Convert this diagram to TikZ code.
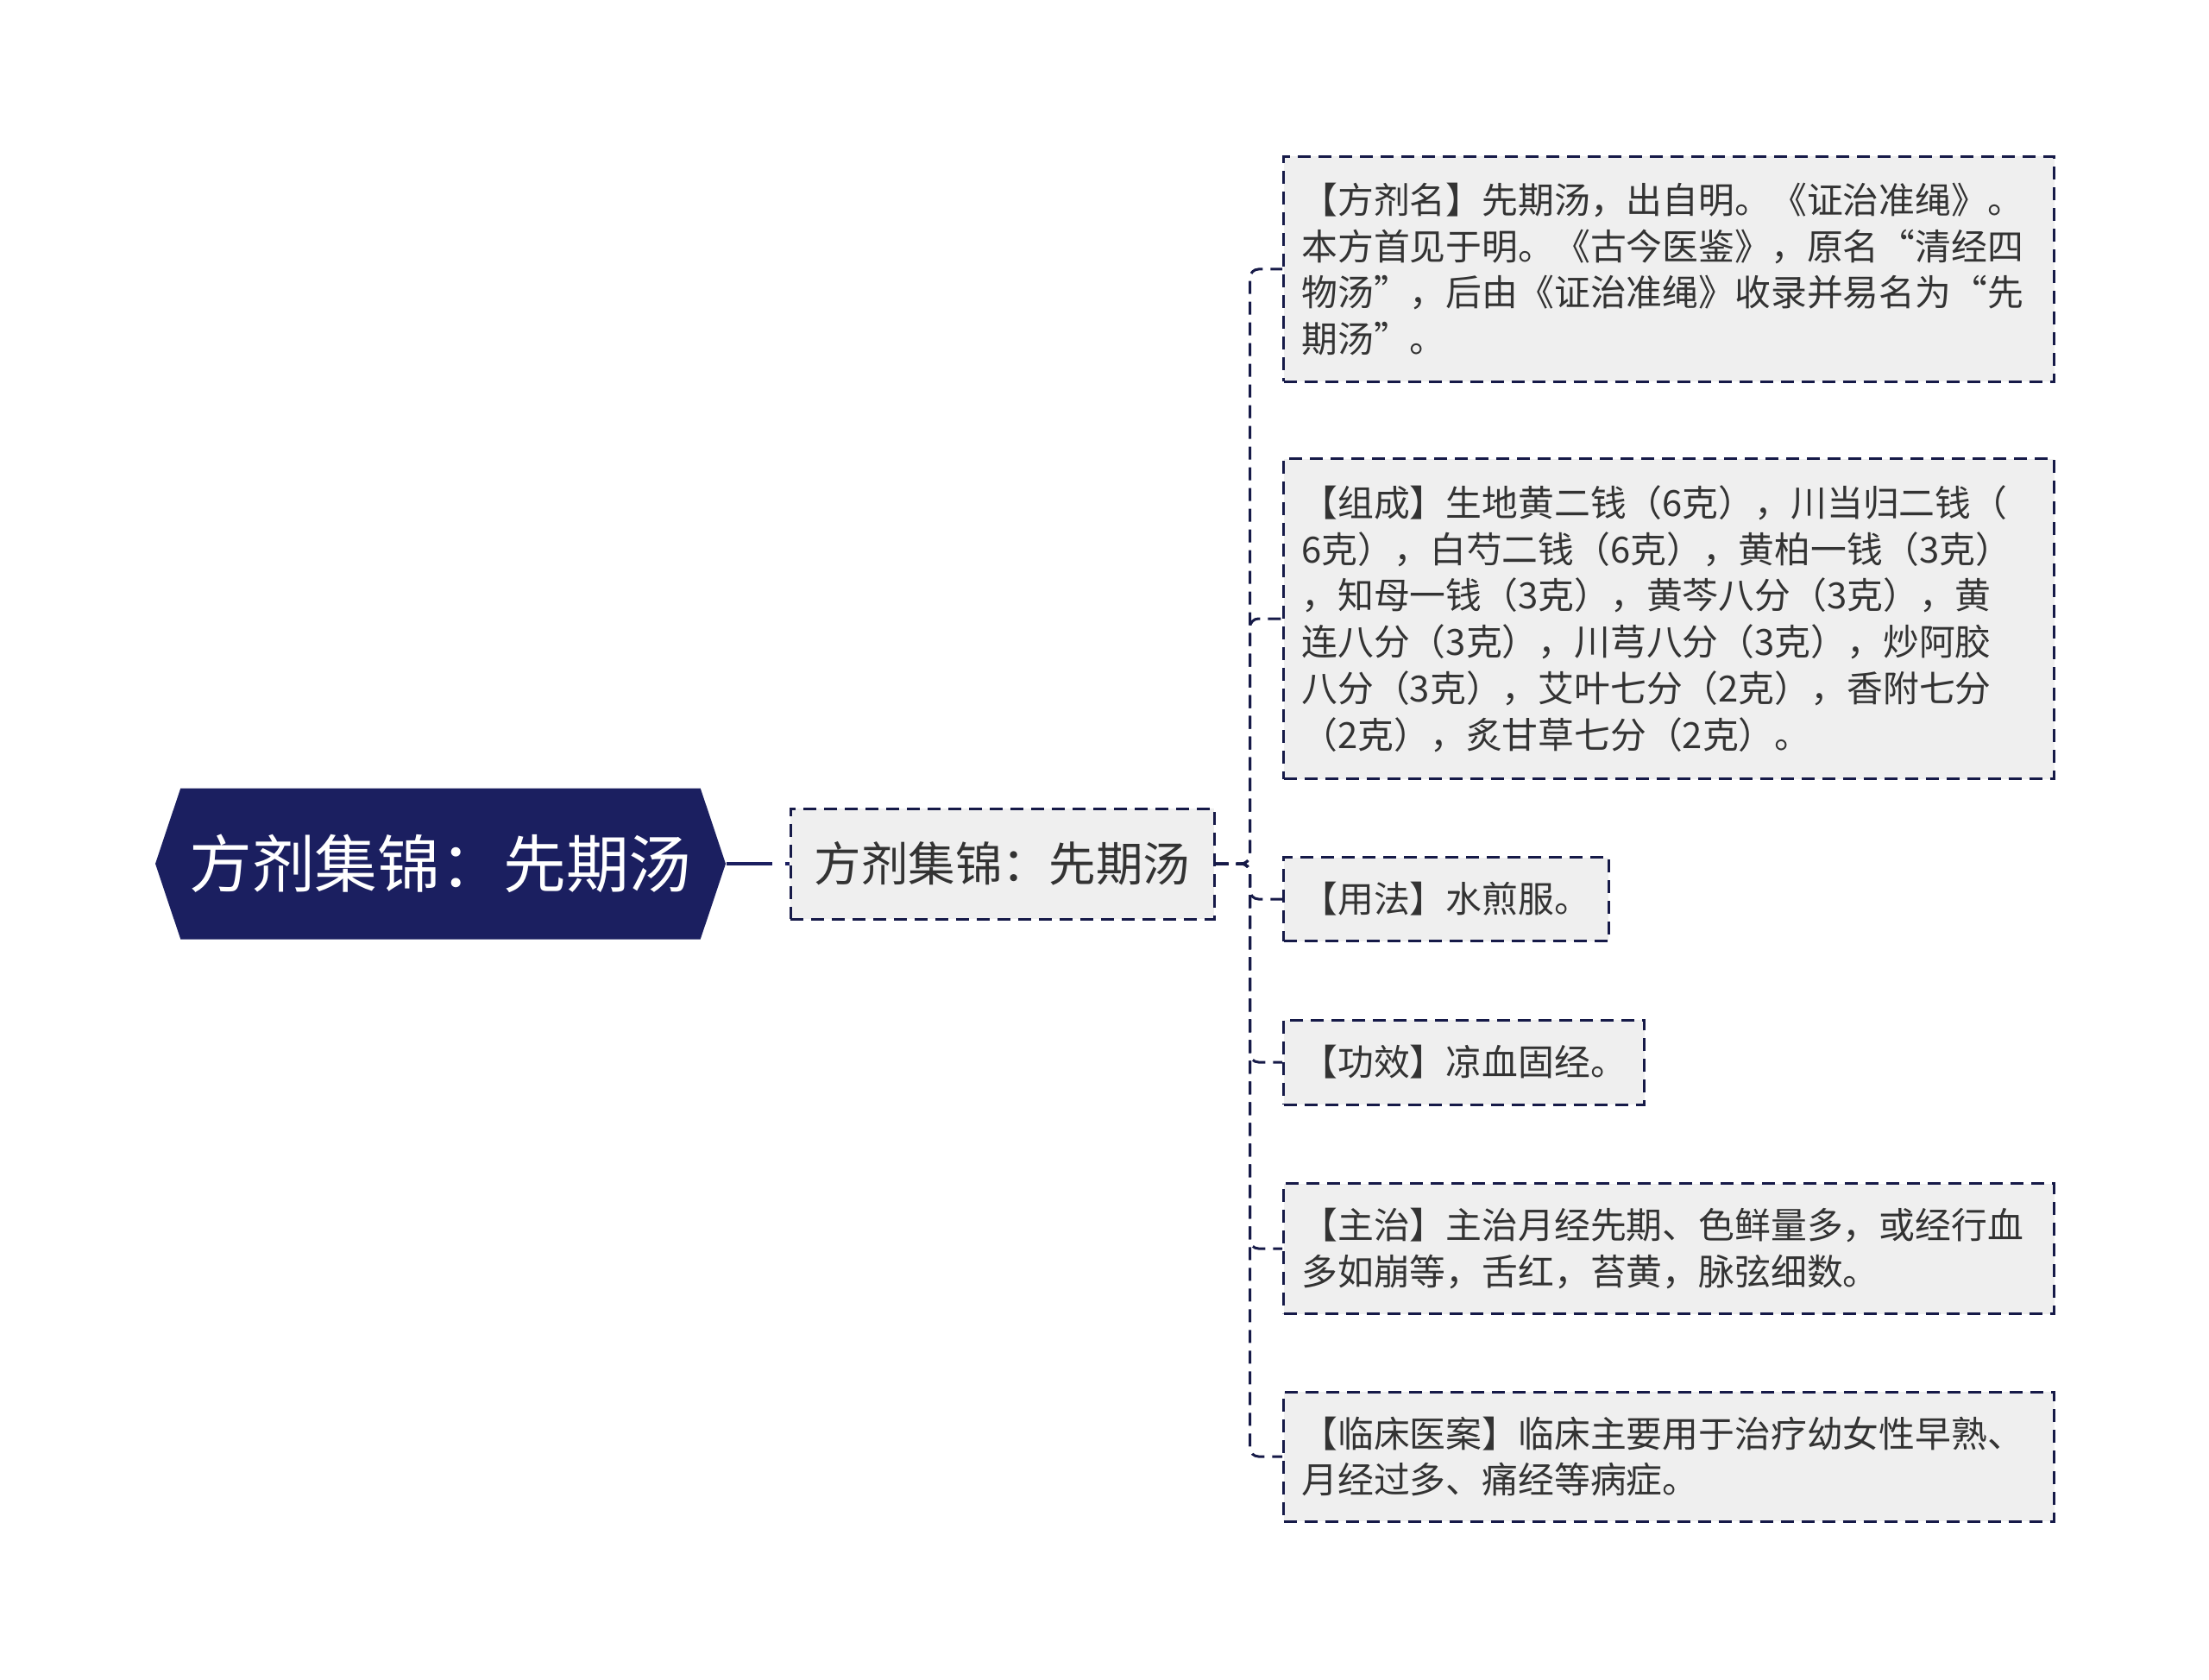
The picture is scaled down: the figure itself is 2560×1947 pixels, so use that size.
\documentclass[tikz,border=0pt]{standalone}
\usepackage{fontspec}
\newfontfamily\cjk{Noto Sans CJK SC}
\usetikzlibrary{shapes.symbols}
\definecolor{navy}{RGB}{27,31,96}
\definecolor{edgeblue}{RGB}{22,26,72}
\definecolor{boxgray}{RGB}{239,239,239}
\definecolor{txtgray}{RGB}{51,51,51}
\begin{document}
\begin{tikzpicture}[x=0.1mm, y=-0.1mm,
  link/.style={draw=edgeblue, line width=0.3mm, dash pattern=on 1.5mm off 0.9mm, rounded corners=1mm},
  rootlink/.style={draw=navy, line width=0.45mm, dash pattern=on 5.3mm off 1.5mm},
  rootnode/.style={signal, signal to=west and east, signal pointer angle=143, fill=navy, text=white,
    font=\cjk\fontsize{20.7}{24}\selectfont, minimum width=66.1mm, minimum height=17.5mm, inner sep=0pt},
  topicnode/.style={draw=edgeblue, fill=boxgray, line width=0.3mm, dash pattern=on 1.5mm off 0.9mm,
    text=txtgray, font=\cjk\fontsize{15.5}{19}\selectfont, minimum width=49.1mm, minimum height=12.8mm},
  leafnode/.style={draw=edgeblue, fill=boxgray, line width=0.3mm, dash pattern=on 1.5mm off 0.9mm,
    text=txtgray, font=\cjk\fontsize{11.9}{15.3}\selectfont, align=left, anchor=west,
    inner xsep=2.1mm, inner ysep=0pt},
  wideleaf/.style={leafnode, text width=85.1mm}]
\useasboundingbox (0,0) rectangle (2560,1947);
\node[rootnode] (root) at (510.5,1001) {方剂集锦：先期汤};
\node[topicnode] (topic) at (1161.5,1001) {方剂集锦：先期汤};
\draw[rootlink] (root.east) -- (topic.west);
\node[wideleaf, minimum height=26.1mm] (fjm) at (1486,312) {【方剂名】先期汤，出自明。《证治准绳》。\\本方首见于明。《古今医鉴》，原名“清经四\\物汤”，后由《证治准绳》收录并易名为“先\\期汤”。};
\node[wideleaf, minimum height=37.1mm] (zc) at (1486,717) {【组成】生地黄二钱（6克），川当归二钱（\\6克），白芍二钱（6克），黄柏一钱（3克）\\，知母一钱（3克），黄芩八分（3克），黄\\连八分（3克），川芎八分（3克），炒阿胶\\八分（3克），艾叶七分（2克），香附七分\\（2克），炙甘草七分（2克）。};
\node[leafnode, minimum height=9.7mm] (yf) at (1486,1042) {【用法】水煎服。};
\node[leafnode, minimum height=9.8mm] (gx) at (1486,1231) {【功效】凉血固经。};
\node[wideleaf, minimum height=15.1mm] (zz) at (1486,1447) {【主治】主治月经先期、色鲜量多，或经行血\\多如崩等，舌红，苔黄，脉弦细数。};
\node[wideleaf, minimum height=15.0mm] (lc) at (1486,1688) {【临床医案】临床主要用于治疗幼女性早熟、\\月经过多、痛经等病症。};
\draw[link] (topic.east) -- ++(40,0) |- (fjm.west);
\draw[link] (topic.east) -- ++(40,0) |- (zc.west);
\draw[link] (topic.east) -- ++(40,0) |- (yf.west);
\draw[link] (topic.east) -- ++(40,0) |- (gx.west);
\draw[link] (topic.east) -- ++(40,0) |- (zz.west);
\draw[link] (topic.east) -- ++(40,0) |- (lc.west);
\end{tikzpicture}
\end{document}
